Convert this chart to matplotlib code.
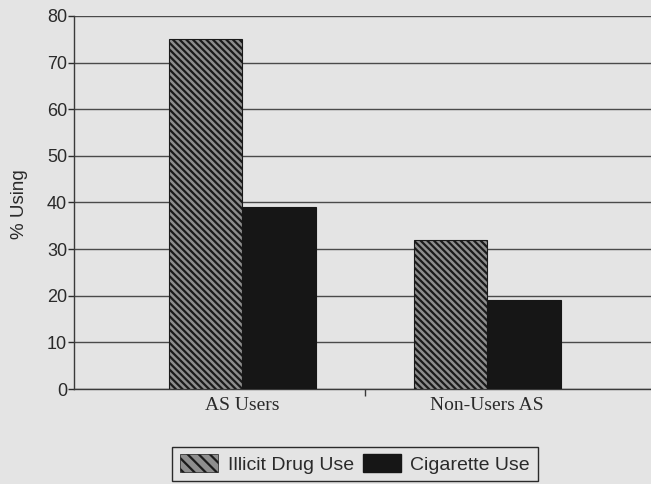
import numpy as np
import matplotlib
matplotlib.use("Agg")
import matplotlib.pyplot as plt
from matplotlib.patches import Patch

# values (% using)
groups = ["AS Users", "Non-Users AS"]
illicit_drug = [75, 32]
cigarette = [39, 19]
series_names = ["Illicit Drug Use", "Cigarette Use"]
y_ticks = [0, 10, 20, 30, 40, 50, 60, 70, 80]

bg = "#e4e4e4"
hatch = "\\\\\\\\\\"
plt.rcParams["hatch.linewidth"] = 1.6
plt.rcParams["hatch.color"] = "#1a1a1a"

fig = plt.figure(figsize=(6.51, 4.84), dpi=100, facecolor=bg)
ax = fig.add_axes([74 / 651, 1 - 389 / 484, 1 - 74 / 651, (389 - 16) / 484])
ax.set_facecolor(bg)

x = np.arange(len(groups))
w = 0.30
ax.bar(x - w / 2, illicit_drug, width=w, facecolor="#8e8e8e", edgecolor="#1a1a1a",
       hatch=hatch, linewidth=0.8, zorder=3)
ax.bar(x + w / 2, cigarette, width=w, color="#161616", edgecolor="#161616",
       linewidth=0.8, zorder=3)

ax.set_ylim(0, 80)
ax.set_xlim(-0.686, 1.669)
ax.set_yticks(y_ticks)
ax.yaxis.grid(True, color="#4a4a4a", linewidth=1.0, zorder=1)
ax.set_axisbelow(True)

for s in ["top", "right"]:
    ax.spines[s].set_visible(False)
for s in ["left", "bottom"]:
    ax.spines[s].set_color("#3a3a3a")
    ax.spines[s].set_linewidth(1.0)

ax.tick_params(axis="y", direction="out", length=4, width=1.0, pad=1,
               labelsize=13, colors="#2a2a2a")
for lab in ax.get_yticklabels():
    lab.set_family("Liberation Sans")

ax.set_xticks(x)
ax.set_xticklabels(groups, family="Liberation Serif", fontsize=14, color="#2a2a2a")
ax.tick_params(axis="x", which="major", length=0, pad=6)
ax.set_xticks([0.5], minor=True)
ax.tick_params(axis="x", which="minor", direction="out", length=5, width=1.0,
               color="#3a3a3a")

fig.text(20 / 651, 1 - 204 / 484, "% Using", rotation=90, ha="center", va="center",
         family="Liberation Sans", fontsize=13.5, color="#2a2a2a")

handles = [
    Patch(facecolor="#8e8e8e", edgecolor="#1a1a1a", hatch="\\\\\\", linewidth=0.5),
    Patch(facecolor="#161616", edgecolor="#161616"),
]
leg = fig.legend(handles, series_names, loc="center", ncol=2,
                 bbox_to_anchor=(355 / 651, 1 - 464 / 484),
                 prop={"family": "Liberation Sans", "size": 14},
                 frameon=True, fancybox=False, edgecolor="#2a2a2a",
                 facecolor=bg, framealpha=1, handlelength=1.95, handleheight=1.0,
                 handletextpad=0.5, columnspacing=0.45, borderpad=0.4,
                 borderaxespad=0)
leg.get_frame().set_linewidth(1.0)
for t in leg.get_texts():
    t.set_color("#2a2a2a")

fig.savefig("out.png", dpi=100, facecolor=bg)
